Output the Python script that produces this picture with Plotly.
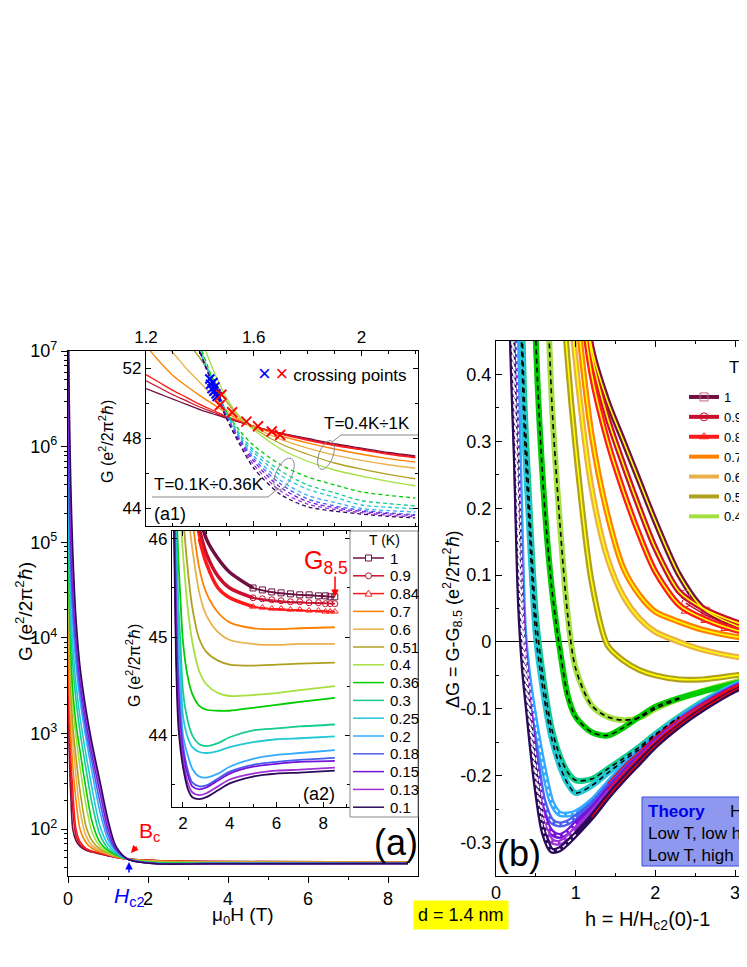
import math
import plotly.graph_objects as go

# the page puts an 8 px margin round the figure, so the figure is 8 px smaller than the window
W, H = 739, 959
OX, OY = 8, 14      # reference pixel (x, y) -> figure pixel (x - OX, y - OY)
FONT = "Arial, 'Liberation Sans', sans-serif"


def px(x):
    return (x - OX) / W


def py(y):
    return 1 - (y - OY) / H


# temperatures (K) and their colours
T_labels = ["1", "0.9", "0.84", "0.7", "0.6", "0.51", "0.4", "0.36", "0.3", "0.25",
            "0.2", "0.18", "0.15", "0.13", "0.1"]
colors = ["#6e1141", "#c8102e", "#ff1a1a", "#ff8000", "#eab04a", "#b0a020", "#a4e040",
          "#00cc00", "#14cc8e", "#22c8d4", "#33aaff", "#4a5ef0", "#7414d8", "#a030d8", "#2c0a5a"]
symbols = ["square-open", "circle-open", "triangle-up-open"]

# ---- panel (a): G vs mu0H, log axis (values stored as log10 G)
H_main = [0, 0.03, 0.07, 0.12, 0.2, 0.3, 0.45, 0.6, 0.8, 1.0, 1.2, 1.5, 2.2, 3.5, 8.5]
logG_main = [
    [4.6, 2.85, 2.35, 2.0, 1.88, 1.82, 1.78, 1.76, 1.74, 1.72, 1.705, 1.686, 1.672, 1.662, 1.657],
    [4.7, 3.0, 2.55, 2.2, 1.93, 1.84, 1.79, 1.765, 1.745, 1.725, 1.706, 1.686, 1.671, 1.661, 1.656],
    [4.8, 3.2, 2.75, 2.4, 2.0, 1.87, 1.8, 1.77, 1.75, 1.73, 1.708, 1.686, 1.670, 1.660, 1.655],
    [5.0, 3.6, 3.0, 2.65, 2.3, 2.0, 1.86, 1.8, 1.76, 1.735, 1.712, 1.686, 1.668, 1.657, 1.654],
    [5.1, 3.9, 3.25, 2.92, 2.55, 2.2, 1.93, 1.83, 1.775, 1.74, 1.715, 1.686, 1.665, 1.655, 1.652],
    [5.2, 4.1, 3.5, 3.08, 2.75, 2.4, 2.03, 1.88, 1.79, 1.75, 1.72, 1.686, 1.660, 1.652, 1.651],
    [5.3, 4.3, 3.7, 3.3, 2.97, 2.65, 2.25, 1.97, 1.82, 1.76, 1.725, 1.686, 1.656, 1.650, 1.648],
    [5.4, 4.45, 3.85, 3.45, 3.1, 2.82, 2.42, 2.08, 1.86, 1.775, 1.73, 1.686, 1.650, 1.646, 1.647],
    [5.5, 4.7, 4.1, 3.72, 3.35, 3.02, 2.63, 2.27, 1.94, 1.80, 1.74, 1.686, 1.645, 1.643, 1.644],
    [5.6, 4.9, 4.3, 3.92, 3.52, 3.17, 2.78, 2.43, 2.03, 1.84, 1.755, 1.686, 1.643, 1.642, 1.643],
    [6.0, 5.2, 4.55, 4.15, 3.72, 3.35, 2.95, 2.6, 2.18, 1.89, 1.77, 1.686, 1.642, 1.640, 1.642],
    [6.5, 5.5, 4.75, 4.3, 3.85, 3.45, 3.03, 2.7, 2.28, 1.94, 1.78, 1.686, 1.640, 1.639, 1.641],
    [7.2, 5.9, 5.0, 4.5, 4.0, 3.55, 3.12, 2.78, 2.38, 2.0, 1.795, 1.686, 1.640, 1.639, 1.640],
    [7.5, 6.2, 5.3, 4.7, 4.1, 3.63, 3.2, 2.85, 2.45, 2.05, 1.81, 1.686, 1.639, 1.638, 1.640],
    [7.5, 6.5, 5.6, 4.9, 4.2, 3.7, 3.25, 2.9, 2.5, 2.1, 1.82, 1.686, 1.638, 1.638, 1.639],
]

# ---- inset (a1): zoom around the crossing
H_a1 = [1.2, 1.25, 1.3, 1.35, 1.4, 1.45, 1.5, 1.55, 1.6, 1.7, 1.8, 1.9, 2.0, 2.1, 2.2]
N = None
G_a1 = [
    [50.85, 50.55, 50.25, 49.95, 49.65, 49.4, 49.15, 48.92, 48.7, 48.3, 48.0, 47.7, 47.45, 47.2, 47.0],
    [51.3, 50.9, 50.5, 50.15, 49.8, 49.5, 49.2, 48.95, 48.7, 48.3, 47.95, 47.65, 47.4, 47.15, 46.95],
    [51.65, 51.2, 50.75, 50.35, 49.95, 49.6, 49.25, 48.98, 48.7, 48.25, 47.9, 47.6, 47.35, 47.1, 46.9],
    [53.3, 52.4, 51.6, 51.0, 50.45, 49.95, 49.45, 49.05, 48.7, 48.15, 47.75, 47.4, 47.1, 46.85, 46.65],
    [54.5, 53.7, 52.9, 52.0, 51.2, 50.4, 49.6, 49.1, 48.65, 47.95, 47.45, 47.05, 46.75, 46.5, 46.3],
    [56.0, 55.0, 54.0, 53.5, 52.6, 51.4, 50.1, 49.2, 48.6, 47.7, 47.1, 46.6, 46.25, 45.95, 45.7],
    [58.0, 57.0, 56.0, 55.0, 53.8, 51.9, 50.3, 49.2, 48.5, 47.4, 46.7, 46.2, 45.85, 45.55, 45.3],
    [N, N, N, 56.5, 53.4, 51.3, 49.5, 48.4, 47.6, 46.5, 45.8, 45.35, 44.95, 44.75, 44.6],
    [N, N, N, 56.3, 53.2, 51.2, 49.45, 48.2, 47.35, 46.15, 45.35, 44.9, 44.45, 44.28, 44.15],
    [N, N, N, 56.2, 53.0, 51.15, 49.4, 48.1, 47.2, 45.9, 45.1, 44.65, 44.2, 44.07, 43.98],
    [N, N, N, 56.1, 53.0, 51.1, 49.3, 48.0, 47.0, 45.6, 44.75, 44.35, 44.0, 43.88, 43.8],
    [N, N, N, 56.0, 53.0, 51.05, 49.25, 47.9, 46.85, 45.4, 44.55, 44.15, 43.9, 43.75, 43.65],
    [N, N, N, 56.0, 53.0, 51.0, 49.2, 47.8, 46.7, 45.2, 44.4, 44.05, 43.83, 43.7, 43.6],
    [N, N, N, 56.0, 53.0, 51.0, 49.15, 47.7, 46.5, 45.0, 44.25, 43.95, 43.76, 43.62, 43.52],
    [N, N, N, 56.0, 53.0, 51.0, 49.1, 47.6, 46.3, 44.8, 44.1, 43.85, 43.68, 43.55, 43.46],
]
cross_blue_H = [1.437, 1.44, 1.445, 1.449, 1.452, 1.456, 1.46, 1.464]
cross_blue_G = [51.4, 51.1, 50.85, 51.2, 50.7, 50.95, 50.55, 50.4]
cross_red_H = [1.474, 1.48, 1.52, 1.573, 1.616, 1.667, 1.698]
cross_red_G = [49.9, 50.5, 49.5, 48.97, 48.7, 48.4, 48.2]

# ---- inset (a2): high-field part
H_a2 = [1.6, 1.7, 1.8, 1.9, 2.0, 2.2, 2.4, 2.7, 3.0, 3.5, 4.0, 5.0, 6.0, 7.0, 8.5]
G_a2 = [
    [48.7, 48.3, 48.0, 47.7, 47.45, 47.0, 46.65, 46.25, 46.0, 45.8, 45.66, 45.5, 45.45, 45.43, 45.41],
    [48.7, 48.3, 47.95, 47.65, 47.4, 46.95, 46.55, 46.1, 45.85, 45.62, 45.5, 45.4, 45.36, 45.35, 45.34],
    [48.7, 48.25, 47.9, 47.6, 47.35, 46.9, 46.45, 46.0, 45.75, 45.5, 45.4, 45.31, 45.28, 45.27, 45.26],
    [48.7, 48.15, 47.75, 47.4, 47.1, 46.65, 46.2, 45.7, 45.45, 45.25, 45.15, 45.09, 45.08, 45.09, 45.10],
    [48.65, 47.95, 47.45, 47.05, 46.75, 46.3, 45.9, 45.45, 45.22, 45.05, 44.97, 44.93, 44.92, 44.93, 44.93],
    [48.6, 47.7, 47.1, 46.6, 46.25, 45.7, 45.3, 44.98, 44.85, 44.76, 44.72, 44.71, 44.72, 44.73, 44.74],
    [48.5, 47.4, 46.7, 46.2, 45.85, 45.3, 44.95, 44.65, 44.52, 44.43, 44.40, 44.41, 44.43, 44.46, 44.50],
    [47.6, 46.5, 45.8, 45.35, 44.95, 44.6, 44.42, 44.3, 44.26, 44.25, 44.25, 44.28, 44.31, 44.34, 44.38],
    [47.35, 46.15, 45.35, 44.9, 44.45, 44.15, 44.0, 43.91, 43.89, 43.92, 43.98, 44.05, 44.07, 44.09, 44.11],
    [47.2, 45.9, 45.1, 44.65, 44.2, 43.98, 43.88, 43.83, 43.82, 43.84, 43.88, 43.93, 43.96, 43.97, 43.99],
    [47.0, 45.6, 44.75, 44.35, 44.0, 43.8, 43.66, 43.58, 43.57, 43.61, 43.68, 43.76, 43.8, 43.82, 43.85],
    [46.85, 45.4, 44.55, 44.15, 43.9, 43.65, 43.52, 43.48, 43.49, 43.56, 43.63, 43.70, 43.73, 43.75, 43.77],
    [46.7, 45.2, 44.4, 44.05, 43.83, 43.6, 43.48, 43.45, 43.47, 43.54, 43.61, 43.68, 43.71, 43.73, 43.74],
    [46.5, 45.0, 44.25, 43.95, 43.76, 43.52, 43.42, 43.39, 43.41, 43.48, 43.55, 43.61, 43.64, 43.65, 43.67],
    [46.3, 44.8, 44.1, 43.85, 43.68, 43.46, 43.37, 43.35, 43.37, 43.44, 43.51, 43.58, 43.61, 43.62, 43.64],
]
H_a2_mk = [5.0, 5.4, 5.8, 6.2, 6.6, 7.0, 7.4, 7.8, 8.1, 8.3, 8.5]
G_a2_mk = [
    [45.5, 45.48, 45.46, 45.45, 45.44, 45.43, 45.43, 45.42, 45.42, 45.41, 45.41],
    [45.4, 45.39, 45.38, 45.37, 45.36, 45.36, 45.35, 45.35, 45.34, 45.34, 45.34],
    [45.31, 45.3, 45.29, 45.29, 45.28, 45.28, 45.27, 45.27, 45.26, 45.26, 45.26],
]

# ---- panel (b): dG = G - G8.5 vs reduced field h
h_b = [0.1, 0.15, 0.2, 0.25, 0.3, 0.35, 0.4, 0.5, 0.6, 0.7, 0.8, 0.9, 1.0, 1.2, 1.4, 1.6, 1.8,
       2.0, 2.3, 2.6, 3.0, 3.3]
dG_b = [
    [N] * 12 + [0.65, 0.44, 0.36, 0.3, 0.24, 0.18, 0.1, 0.05, 0.025, 0.015],
    [N] * 12 + [0.62, 0.43, 0.335, 0.265, 0.2, 0.14, 0.075, 0.05, 0.03, 0.02],
    [N] * 12 + [0.58, 0.4, 0.3, 0.225, 0.16, 0.105, 0.055, 0.035, 0.018, 0.01],
    [N] * 11 + [0.75, 0.52, 0.31, 0.19, 0.11, 0.07, 0.045, 0.03, 0.018, 0.008, 0.003],
    [N] * 10 + [0.8, 0.56, 0.42, 0.23, 0.125, 0.068, 0.035, 0.015, 0.0, -0.012, -0.022, -0.027],
    [N] * 9 + [0.9, 0.6, 0.42, 0.29, 0.09, -0.005, -0.028, -0.042, -0.05, -0.056, -0.056, -0.05, -0.045],
    [N] * 7 + [1.2, 0.7, 0.36, 0.18, 0.04, -0.04, -0.095, -0.112, -0.117, -0.113, -0.1, -0.085,
               -0.073, -0.06, -0.05],
    [N] * 5 + [1.5, 1.0, 0.45, 0.22, 0.08, -0.01, -0.08, -0.112, -0.135, -0.14, -0.128, -0.112,
               -0.097, -0.084, -0.074, -0.062, -0.052],
    [N] * 3 + [1.2, 0.62, 0.38, 0.25, 0.04, -0.06, -0.13, -0.17, -0.195, -0.207, -0.205, -0.19,
               -0.174, -0.157, -0.138, -0.112, -0.089, -0.064, -0.05],
    [N] * 3 + [1.0, 0.55, 0.33, 0.21, 0.01, -0.08, -0.145, -0.185, -0.212, -0.226, -0.215, -0.196,
               -0.178, -0.16, -0.14, -0.113, -0.09, -0.065, -0.051],
    [N] + [1.2, 0.8, 0.48, 0.22, 0.02, -0.045, -0.125, -0.19, -0.24, -0.257, -0.258, -0.255, -0.238,
           -0.212, -0.186, -0.164, -0.142, -0.115, -0.092, -0.066, -0.052],
    [N] + [1.05, 0.55, 0.35, 0.13, 0.0, -0.065, -0.17, -0.24, -0.268, -0.273, -0.27, -0.262, -0.243,
           -0.217, -0.19, -0.167, -0.145, -0.117, -0.093, -0.067, -0.053],
    [N] + [1.0, 0.5, 0.31, 0.1, -0.01, -0.08, -0.19, -0.26, -0.285, -0.29, -0.284, -0.272, -0.25,
           -0.222, -0.196, -0.172, -0.149, -0.12, -0.095, -0.068, -0.055],
    [N] + [0.95, 0.48, 0.29, 0.08, -0.025, -0.09, -0.2, -0.27, -0.298, -0.3, -0.292, -0.28, -0.256,
           -0.228, -0.2, -0.176, -0.152, -0.122, -0.097, -0.07, -0.056],
    [N] + [0.9, 0.45, 0.27, 0.06, -0.04, -0.1, -0.21, -0.285, -0.312, -0.31, -0.3, -0.288, -0.262,
           -0.232, -0.205, -0.18, -0.155, -0.125, -0.1, -0.072, -0.058],
]
h_b_mk = [2.38, 2.63, 2.88, 3.13]
dG_b_mk = [
    [0.071, 0.046, 0.026, 0.016],
    [0.058, 0.04, 0.027, 0.018],
    [0.046, 0.032, 0.02, 0.012],
]


def part(xs, ys, lo, hi):
    # keep only points with lo <= x <= hi
    pts = [(x, y) for x, y in zip(xs, ys) if lo <= x <= hi and y is not None]
    return [p[0] for p in pts], [p[1] for p in pts]


fig = go.Figure()
spl = dict(shape="spline", smoothing=0.8)

# main panel (a)
for row, c in zip(logG_main, colors):
    fig.add_trace(go.Scatter(x=H_main, y=[10 ** v for v in row], xaxis="x", yaxis="y",
                             mode="lines", line=dict(color=c, width=1.6, **spl),
                             showlegend=False, hoverinfo="skip"))

# inset a1
for i, (row, c) in enumerate(zip(G_a1, colors)):
    fig.add_trace(go.Scatter(x=H_a1, y=row, xaxis="x2", yaxis="y2", mode="lines",
                             line=dict(color=c, width=1.3, dash="solid" if i < 7 else "4px,3px", **spl),
                             showlegend=False, hoverinfo="skip"))
fig.add_trace(go.Scatter(x=cross_blue_H, y=cross_blue_G, xaxis="x2", yaxis="y2", mode="markers",
                         marker=dict(symbol="x-thin", size=9, line=dict(color="#0000ff", width=2)),
                         showlegend=False, hoverinfo="skip"))
fig.add_trace(go.Scatter(x=cross_red_H, y=cross_red_G, xaxis="x2", yaxis="y2", mode="markers",
                         marker=dict(symbol="x-thin", size=10, line=dict(color="#ff0000", width=1.8)),
                         showlegend=False, hoverinfo="skip"))

# inset a2
for i, (row, c) in enumerate(zip(G_a2, colors)):
    fig.add_trace(go.Scatter(x=H_a2, y=row, xaxis="x3", yaxis="y3", mode="lines",
                             line=dict(color=c, width=1.8, **spl), showlegend=False, hoverinfo="skip"))
    if i < 3:
        hx, hy = part(H_a2, row, 2.5, 5.0)
        fig.add_trace(go.Scatter(x=hx, y=hy, xaxis="x3", yaxis="y3", mode="lines",
                                 line=dict(color=c, width=3.5, **spl), showlegend=False, hoverinfo="skip"))
        fig.add_trace(go.Scatter(x=H_a2_mk, y=G_a2_mk[i], xaxis="x3", yaxis="y3", mode="lines+markers",
                                 line=dict(color=c, width=1), marker=dict(symbol=symbols[i], size=6, color=c),
                                 showlegend=False, hoverinfo="skip"))

# panel (b) measured curves
for i, (row, c) in enumerate(zip(dG_b, colors)):
    fig.add_trace(go.Scatter(x=h_b, y=row, xaxis="x4", yaxis="y4", mode="lines",
                             line=dict(color=c, width=6, **spl), showlegend=False, hoverinfo="skip"))
    if i < 3:
        fig.add_trace(go.Scatter(x=h_b_mk, y=dG_b_mk[i], xaxis="x4", yaxis="y4", mode="lines+markers",
                                 line=dict(color=c, width=1.5),
                                 marker=dict(symbol=symbols[i], size=8, color="#c06080" if i == 0 else c),
                                 showlegend=False, hoverinfo="skip"))

# panel (b) theory curves
for i in range(6):
    fig.add_trace(go.Scatter(x=h_b, y=dG_b[i], xaxis="x4", yaxis="y4", mode="lines",
                             line=dict(color="#ffff00", width=1.6, **spl), showlegend=False, hoverinfo="skip"))
for i in range(6, 10):
    tx, ty = part(h_b, dG_b[i], 0, 2.3)
    fig.add_trace(go.Scatter(x=tx, y=ty, xaxis="x4", yaxis="y4", mode="lines",
                             line=dict(color="black", width=1.6, dash="5px,4px", **spl),
                             showlegend=False, hoverinfo="skip"))
for i in range(10, 15):
    tx, ty = part(h_b, dG_b[i], 0, 1.0)
    fig.add_trace(go.Scatter(x=tx, y=ty, xaxis="x4", yaxis="y4", mode="lines",
                             line=dict(color="white", width=1.4, dash="4px,3px", **spl),
                             showlegend=False, hoverinfo="skip"))
for i, start in [(10, 1.4), (12, 1.3), (14, 1.2)]:
    tx, ty = part(h_b, dG_b[i], start, 3.3)
    fig.add_trace(go.Scatter(x=tx, y=ty, xaxis="x4", yaxis="y4", mode="lines",
                             line=dict(color="#ff0000", width=1.2, **spl), showlegend=False, hoverinfo="skip"))

# legend of (b)
for i in range(7):
    fig.add_trace(go.Scatter(x=[None], y=[None], xaxis="x4", yaxis="y4", name=T_labels[i],
                             mode="lines+markers" if i < 3 else "lines", legend="legend2",
                             line=dict(color=colors[i], width=4),
                             marker=dict(symbol=symbols[i] if i < 3 else "circle", size=8,
                                         color="#c06080" if i == 0 else colors[i])))

tick_font = dict(family=FONT, size=18, color="black")
small_font = dict(family=FONT, size=17, color="black")
ax_common = dict(showgrid=False, zeroline=False, showline=True, linecolor="black", linewidth=1.2,
                 tickcolor="black")

fig.update_layout(
    width=W, height=H,
    margin=dict(l=0, r=0, t=0, b=0, autoexpand=False),
    paper_bgcolor="white", plot_bgcolor="white",
    font=dict(family=FONT, color="black"),
    xaxis=dict(domain=[px(68), px(418)], range=[0, 8.75], anchor="y", mirror=True,
               ticks="outside", ticklen=6, dtick=2, tick0=0, tickfont=tick_font,
               minor=dict(dtick=1, ticks="outside", ticklen=3, tickcolor="black"), **ax_common),
    yaxis=dict(domain=[py(882), py(357)], type="log", range=[1.51, 7.0], anchor="x", mirror=True,
               ticks="outside", ticklen=6, tickvals=[1e2, 1e3, 1e4, 1e5, 1e6, 1e7],
               ticktext=["10<sup>%d</sup>" % k for k in range(2, 8)], tickfont=tick_font,
               minor=dict(dtick="D1", ticks="outside", ticklen=3, tickcolor="black"), **ax_common),
    xaxis2=dict(domain=[px(146), px(418)], range=[1.2, 2.21], anchor="y2", side="top", mirror="ticks",
                ticks="inside", ticklen=5, dtick=0.4, tick0=1.2, tickfont=small_font,
                minor=dict(dtick=0.1, ticks="inside", ticklen=3, tickcolor="black"), **ax_common),
    yaxis2=dict(domain=[py(532), py(357)], range=[43, 53], anchor="x2", mirror="ticks",
                ticks="inside", ticklen=5, dtick=4, tick0=44, tickfont=small_font,
                minor=dict(dtick=2, ticks="inside", ticklen=3, tickcolor="black"), **ax_common),
    xaxis3=dict(domain=[px(172), px(350)], range=[1.53, 9.15], anchor="y3", mirror="ticks",
                ticks="inside", ticklen=5, dtick=2, tick0=2, tickfont=small_font,
                minor=dict(dtick=1, ticks="inside", ticklen=3, tickcolor="black"), **ax_common),
    yaxis3=dict(domain=[py(813), py(537)], range=[43.27, 46.08], anchor="x3", mirror="ticks",
                ticks="inside", ticklen=5, dtick=1, tick0=44, tickfont=small_font,
                minor=dict(dtick=0.5, ticks="inside", ticklen=3, tickcolor="black"), **ax_common),
    xaxis4=dict(domain=[px(496), 1.0], range=[0, 3.15], anchor="y4", mirror="ticks",
                ticks="inside", ticklen=6, dtick=1, tick0=0, tickfont=tick_font,
                minor=dict(dtick=0.5, ticks="inside", ticklen=3, tickcolor="black"), **ax_common),
    yaxis4=dict(domain=[py(882), py(347)], range=[-0.35, 0.45], anchor="x4",
                showgrid=False, showline=True, linecolor="black", linewidth=1.2, tickcolor="black",
                zeroline=True, zerolinecolor="black", zerolinewidth=1.2,
                ticks="inside", ticklen=6, tickvals=[-0.3, -0.2, -0.1, 0, 0.1, 0.2, 0.3, 0.4],
                ticktext=["-0.3", "-0.2", "-0.1", "0", "0.1", "0.2", "0.3", "0.4"], tickfont=tick_font,
                minor=dict(dtick=0.05, ticks="inside", ticklen=3, tickcolor="black")),
    legend2=dict(x=px(684), y=py(388), xanchor="left", yanchor="top", bgcolor="rgba(0,0,0,0)",
                 borderwidth=0, font=dict(family=FONT, size=13), itemwidth=30, tracegroupgap=0),
)


def ellipse_path(cx, cy, rx, ry, deg):
    a = math.radians(deg)
    pts = []
    for k in range(37):
        t = 2 * math.pi * k / 36
        ex, ey = rx * math.cos(t), ry * math.sin(t)
        pts.append("%.5f,%.5f" % (px(cx + ex * math.cos(a) - ey * math.sin(a)),
                                  py(cy + ex * math.sin(a) + ey * math.cos(a))))
    return "M " + " L ".join(pts) + " Z"


def seg(x0, y0, x1, y1, line):
    return dict(type="line", xref="paper", yref="paper", x0=px(x0), y0=py(y0), x1=px(x1), y1=py(y1),
                line=line)


grey = dict(color="#888888", width=1)
shapes = [
    dict(type="path", xref="paper", yref="paper", path=ellipse_path(326, 461, 7, 15, 20), line=grey),
    dict(type="path", xref="paper", yref="paper", path=ellipse_path(284, 480, 8, 17, 25), line=grey),
    seg(332, 448, 341, 441, grey), seg(341, 441, 418, 441, grey),
    seg(152, 503, 268, 503, grey), seg(268, 503, 279, 494, grey),
    # key box of inset a2
    dict(type="rect", xref="paper", yref="paper", x0=px(350), x1=px(418), y0=py(823), y1=py(537),
         fillcolor="white", line=dict(color="#888888", width=1), layer="above"),
    # theory key box of (b)
    dict(type="rect", xref="paper", yref="paper", x0=px(642), x1=px(800), y0=py(872), y1=py(803),
         fillcolor="#8f98ef", line=dict(color="#3b4ae0", width=1)),
]


def label(text, x, y, size=17, color="black", xanchor="left", yanchor="middle", angle=0, **kw):
    fig.add_annotation(text=text, x=px(x), y=py(y), xref="paper", yref="paper", showarrow=False,
                       xanchor=xanchor, yanchor=yanchor, textangle=angle,
                       font=dict(family=FONT, size=size, color=color), **kw)


# key of inset a2: T values in the box
label("T (K)", 384, 546, size=14, xanchor="center")
for i, (lab, c) in enumerate(zip(T_labels, colors)):
    yy = 564 + 17.8 * i
    shapes.append(seg(353, yy, 384, yy, dict(color=c, width=1.5)))
    if i == 0:
        shapes.append(dict(type="rect", xref="paper", yref="paper", x0=px(365.5), x1=px(371.5),
                           y0=py(yy + 3), y1=py(yy - 3), fillcolor="white", line=dict(color=c, width=1)))
    elif i == 1:
        shapes.append(dict(type="circle", xref="paper", yref="paper", x0=px(365.5), x1=px(371.5),
                           y0=py(yy + 3), y1=py(yy - 3), fillcolor="white", line=dict(color=c, width=1)))
    elif i == 2:
        tri = "M %.5f,%.5f L %.5f,%.5f L %.5f,%.5f Z" % (px(368.5), py(yy - 3.5), px(372), py(yy + 2.5),
                                                         px(365), py(yy + 2.5))
        shapes.append(dict(type="path", xref="paper", yref="paper", path=tri, fillcolor="white",
                           line=dict(color=c, width=1)))
    label(lab, 388, yy, size=15)

fig.update_layout(shapes=shapes)

ph = "(e<sup>2</sup>/2π<sup>2</sup>ℏ)"
label("G " + ph, 24, 618, size=19, xanchor="center", angle=-90)
label("G " + ph, 106, 448, size=16, xanchor="center", angle=-90)
label("G " + ph, 133, 672, size=16, xanchor="center", angle=-90)
label("ΔG = G-G<sub>8.5</sub> " + ph, 452, 625, size=18, xanchor="center", angle=-90)
label("μ<sub>0</sub>H (T)", 243, 922, size=19, xanchor="center")
label("h = H/H<sub>c2</sub>(0)-1", 583, 926, size=20)
label("d = 1.4 nm", 461, 921, size=18, xanchor="center", bgcolor="#ffff00", borderpad=4)
label("T=0.4K÷1K", 322, 429, size=17)
label("T=0.1K÷0.36K", 152, 491, size=17)
label("(a1)", 152, 520, size=18)
label("(a2)", 301, 800, size=18)
label("(a)", 396, 848, size=36, xanchor="center")
label("(b)", 519, 859, size=36, xanchor="center")
label("<span style='color:#0000ff;font-size:22px'>×</span> <span style='color:#ff0000;font-size:22px'>×</span>"
      " crossing points", 256, 379, size=17)
label("G<sub>8.5</sub>", 302, 568, size=25, color="#ff0000")
label("B<sub>c</sub>", 137, 838, size=21, color="#ff0000")
label("<i>H</i><sub>c2</sub>", 112, 903, size=21, color="#0000ff")
label("T(K)", 727, 373, size=17)
label("<b>Theory</b>", 646, 817, size=17, color="#0000ee")
label("High T", 728, 817, size=17)
label("Low T, low h", 646, 839, size=17)
label("Low T, high h", 646, 861, size=17)

# arrows
for (tx, ty, ax, ay, c) in [(131, 859, 7, -8, "#ff0000"), (129, 868, 0, 12, "#0000ff"),
                            (335, 603, 0, -22, "#ff0000")]:
    fig.add_annotation(text="", x=px(tx), y=py(ty), xref="paper", yref="paper", showarrow=True,
                       ax=ax, ay=ay, arrowhead=2, arrowsize=1, arrowwidth=1.5, arrowcolor=c)

fig.write_html("out.html")
